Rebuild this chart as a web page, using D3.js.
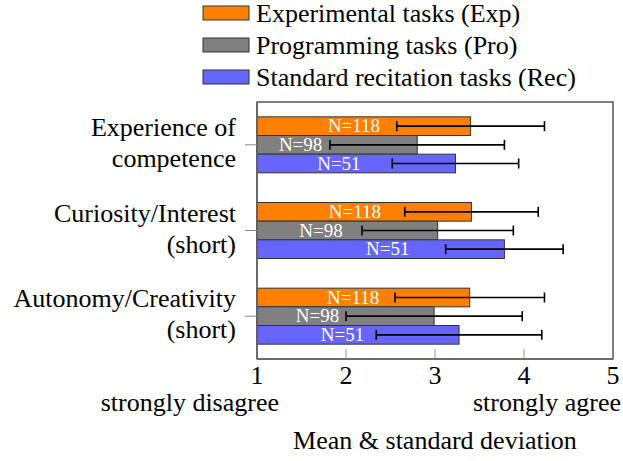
<!DOCTYPE html>
<html>
<head>
<meta charset="utf-8">
<script src="https://cdn.jsdelivr.net/npm/d3@7/dist/d3.min.js"></script>
<style>
  html, body { margin: 0; padding: 0; background: #fff; }
  svg { display: block; }
</style>
</head>
<body>
<svg id="chart" width="623" height="461"></svg>
<script>
// categories (multi-line labels) and series
const categories = ['Experience of competence', 'Curiosity/Interest (short)', 'Autonomy/Creativity (short)'];
const categoryLines = [['Experience of', 'competence'], ['Curiosity/Interest', '(short)'], ['Autonomy/Creativity', '(short)']];
const seriesKeys = ['Exp', 'Pro', 'Rec'];
const seriesNames = ['Experimental tasks (Exp)', 'Programming tasks (Pro)', 'Standard recitation tasks (Rec)'];
const seriesCounts = [118, 98, 51];

// means and standard deviations per category
const expMean = [3.40, 3.41, 3.39];
const expSd = [0.83, 0.75, 0.84];
const proMean = [2.80, 3.03, 2.99];
const proSd = [0.98, 0.85, 0.99];
const recMean = [3.23, 3.78, 3.27];
const recSd = [0.71, 0.66, 0.93];

const xTicks = [1, 2, 3, 4, 5];

const colors = {Exp: '#ff8000', Pro: '#808080', Rec: '#6666ff'};

;(function () {
  const svg = d3.select('#chart');
  const font = 26;
  const serif = "'Liberation Serif', monospace";

  const x = d3.scaleLinear().domain([1, 5]).range([257, 613]);
  const y = d3.scaleBand().domain(categories).range([102, 359]);
  const ySub = d3.scaleBand().domain(seriesKeys).range([-28, 28]);

  const means = {Exp: expMean, Pro: proMean, Rec: recMean};
  const sds = {Exp: expSd, Pro: proSd, Rec: recSd};

  const rows = [];
  categories.forEach((c, i) => {
    seriesKeys.forEach((k, j) => {
      rows.push({cat: c, key: k, mean: means[k][i], sd: sds[k][i], n: seriesCounts[j]});
    });
  });

  // frame
  svg.append('rect')
    .attr('x', x(1)).attr('y', y.range()[0])
    .attr('width', x(5) - x(1)).attr('height', y.range()[1] - y.range()[0])
    .attr('fill', 'none').attr('stroke', '#000').attr('stroke-width', 1);

  // inner ticks on x axis
  svg.append('g').selectAll('line')
    .data(xTicks.slice(1, -1))
    .enter()
    .append('line')
    .attr('x1', d => x(d)).attr('x2', d => x(d))
    .attr('y1', y.range()[1]).attr('y2', y.range()[1] - 10)
    .attr('stroke', '#999').attr('stroke-width', 1);

  const cy = c => y(c) + y.bandwidth() / 2;

  // bars
  const g = svg.append('g');
  g.selectAll('rect')
    .data(rows)
    .enter()
    .append('rect')
    .attr('x', x(1))
    .attr('y', d => cy(d.cat) + ySub(d.key))
    .attr('width', d => x(d.mean) - x(1))
    .attr('height', ySub.bandwidth())
    .attr('fill', d => colors[d.key])
    .attr('stroke', '#333')
    .attr('stroke-width', 1);

  // N labels
  g.selectAll('text')
    .data(rows)
    .enter()
    .append('text')
    .attr('x', d => x(d.mean - 1.31))
    .attr('y', d => cy(d.cat) + ySub(d.key) + ySub.bandwidth() / 2 + 6)
    .attr('text-anchor', 'middle')
    .attr('fill', '#fff')
    .attr('font-size', 19)
    .style('font-family', serif)
    .text(d => 'N=' + d.n);

  // error bars
  const eb = svg.append('g').attr('stroke', '#000').attr('stroke-width', 1.6);
  rows.forEach(d => {
    const ym = cy(d.cat) + ySub(d.key) + ySub.bandwidth() / 2;
    eb.append('line')
      .attr('x1', x(d.mean - d.sd)).attr('x2', x(d.mean + d.sd))
      .attr('y1', ym).attr('y2', ym);
    [d.mean - d.sd, d.mean + d.sd].forEach(v => {
      eb.append('line')
        .attr('x1', x(v)).attr('x2', x(v))
        .attr('y1', ym - 5).attr('y2', ym + 5);
    });
  });

  // left and bottom axis lines
  svg.append('line')
    .attr('x1', x(1)).attr('x2', x(1))
    .attr('y1', y.range()[0]).attr('y2', y.range()[1])
    .attr('stroke', '#666').attr('stroke-width', 1.5);
  svg.append('line')
    .attr('x1', x(1)).attr('x2', x(5))
    .attr('y1', y.range()[1]).attr('y2', y.range()[1])
    .attr('stroke', '#666').attr('stroke-width', 1.5);

  // y ticks and labels
  const yg = svg.append('g');
  yg.selectAll('line')
    .data(categories)
    .enter()
    .append('line')
    .attr('x1', x(1) - 12).attr('x2', x(1))
    .attr('y1', d => cy(d)).attr('y2', d => cy(d))
    .attr('stroke', '#888').attr('stroke-width', 1);

  categories.forEach((c, i) => {
    const t = yg.append('text')
      .attr('x', 236)
      .attr('text-anchor', 'end')
      .attr('font-size', font)
      .style('font-family', serif)
      .attr('fill', '#000');
    categoryLines[i].forEach((line, k) => {
      t.append('tspan')
        .attr('x', 236)
        .attr('y', cy(c) - 9 + k * 31)
        .text(line);
    });
  });

  // x tick labels
  svg.append('g').selectAll('text')
    .data(xTicks)
    .enter()
    .append('text')
    .attr('x', d => x(d))
    .attr('y', 384)
    .attr('text-anchor', 'middle')
    .attr('font-size', font)
    .style('font-family', serif)
    .text(d => d);

  svg.append('text')
    .attr('x', x(1) + 22).attr('y', 411)
    .attr('text-anchor', 'end')
    .attr('font-size', font)
    .style('font-family', serif)
    .text('strongly disagree');
  svg.append('text')
    .attr('x', x(5) + 8).attr('y', 411)
    .attr('text-anchor', 'end')
    .attr('font-size', font)
    .style('font-family', serif)
    .text('strongly agree');

  svg.append('text')
    .attr('x', (x(1) + x(5)) / 2).attr('y', 449)
    .attr('text-anchor', 'middle')
    .attr('font-size', font)
    .style('font-family', serif)
    .text('Mean & standard deviation');

  // legend
  const lg = svg.append('g');
  seriesKeys.forEach((k, i) => {
    const yc = 13 + i * 32;
    lg.append('rect')
      .attr('x', 203).attr('y', yc - 7)
      .attr('width', 46).attr('height', 14)
      .attr('fill', colors[k])
      .attr('stroke', '#333').attr('stroke-width', 1);
    lg.append('text')
      .attr('x', 256).attr('y', yc + 9)
      .attr('font-size', font)
      .style('font-family', serif)
      .text(seriesNames[i]);
  });
}());
</script>
</body>
</html>
